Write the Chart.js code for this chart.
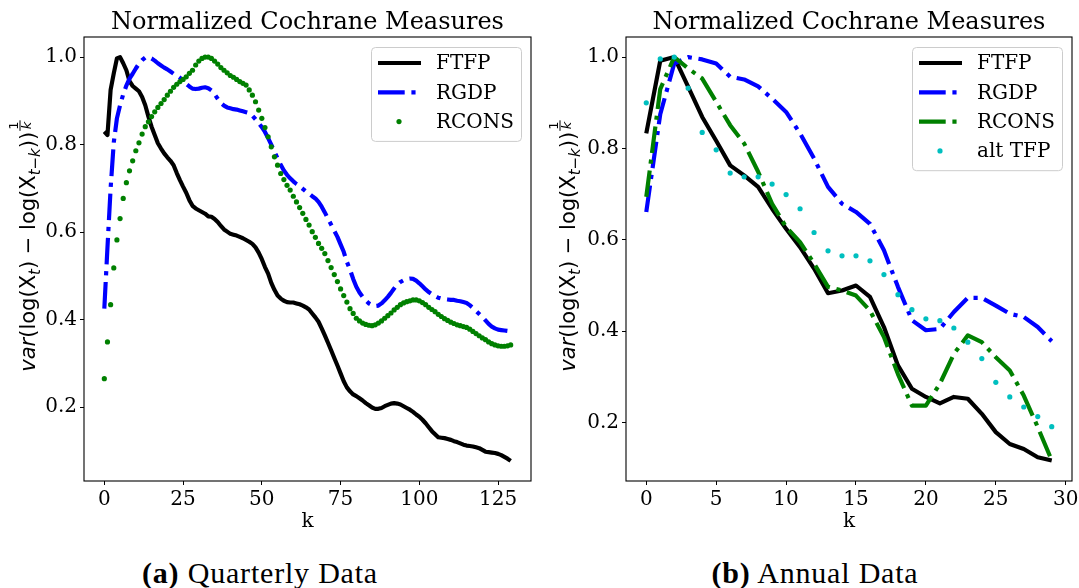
<!DOCTYPE html>
<html>
<head>
<meta charset="utf-8">
<script src="https://cdn.jsdelivr.net/npm/chart.js@4.4.0/dist/chart.umd.min.js"></script>
<style>
  html, body { margin: 0; padding: 0; background: #fff; }
  #page { position: relative; width: 1079px; height: 588px; overflow: hidden; }
  canvas { position: absolute; top: 0; }
  #quarterly { left: 0; }
  #annual { left: 540px; }
  .cap { position: absolute; top: 558px; line-height: 30px; font-family: "Liberation Serif", serif;
         font-size: 30px; letter-spacing: 0.8px; color: #000; white-space: nowrap; transform: translateX(-50%); }
</style>
</head>
<body>
<div id="page">
  <canvas id="quarterly" width="540" height="540"></canvas>
  <canvas id="annual" width="539" height="540"></canvas>
  <div class="cap" style="left:260px"><b>(a)</b> Quarterly Data</div>
  <div class="cap" style="left:815px"><b>(b)</b> Annual Data</div>
</div>
<script>
// --- data ---
const quarterlyK = Array.from({ length: 130 }, (_, i) => i);
const qFTFP = [0.830, 0.822, 0.925, 0.963, 0.997, 1.000, 0.986, 0.970, 0.945, 0.934,
  0.928, 0.922, 0.909, 0.890, 0.864, 0.841, 0.822, 0.803, 0.791, 0.780,
  0.771, 0.763, 0.753, 0.735, 0.719, 0.704, 0.690, 0.673, 0.660, 0.654,
  0.650, 0.646, 0.642, 0.636, 0.635, 0.630, 0.623, 0.614, 0.606, 0.601,
  0.596, 0.594, 0.592, 0.589, 0.586, 0.582, 0.578, 0.573, 0.565, 0.553,
  0.538, 0.520, 0.505, 0.484, 0.468, 0.455, 0.448, 0.443, 0.440, 0.439,
  0.439, 0.437, 0.435, 0.432, 0.428, 0.423, 0.414, 0.405, 0.395, 0.380,
  0.364, 0.347, 0.330, 0.312, 0.295, 0.277, 0.259, 0.245, 0.236, 0.229,
  0.225, 0.220, 0.215, 0.209, 0.204, 0.199, 0.196, 0.196, 0.198, 0.202,
  0.205, 0.208, 0.209, 0.208, 0.206, 0.202, 0.198, 0.194, 0.189, 0.183,
  0.178, 0.171, 0.163, 0.154, 0.145, 0.138, 0.131, 0.130, 0.129, 0.127,
  0.125, 0.122, 0.120, 0.117, 0.114, 0.112, 0.111, 0.110, 0.108, 0.106,
  0.102, 0.098, 0.097, 0.096, 0.095, 0.093, 0.090, 0.086, 0.082, 0.077];
const qRGDP = [0.425, 0.565, 0.700, 0.805, 0.860, 0.890, 0.915, 0.935, 0.951, 0.962,
  0.974, 0.985, 0.993, 0.999, 1.000, 0.997, 0.992, 0.986, 0.981, 0.976,
  0.972, 0.967, 0.962, 0.958, 0.953, 0.946, 0.939, 0.933, 0.928, 0.927,
  0.928, 0.930, 0.931, 0.929, 0.924, 0.915, 0.905, 0.895, 0.889, 0.885,
  0.883, 0.881, 0.880, 0.878, 0.876, 0.874, 0.872, 0.866, 0.858, 0.849,
  0.840, 0.829, 0.815, 0.800, 0.784, 0.769, 0.754, 0.741, 0.731, 0.723,
  0.716, 0.710, 0.705, 0.699, 0.693, 0.688, 0.682, 0.677, 0.669, 0.658,
  0.645, 0.631, 0.617, 0.603, 0.589, 0.572, 0.555, 0.532, 0.514, 0.493,
  0.475, 0.462, 0.452, 0.444, 0.437, 0.433, 0.431, 0.432, 0.437, 0.444,
  0.452, 0.461, 0.471, 0.480, 0.486, 0.490, 0.493, 0.494, 0.493, 0.489,
  0.483, 0.476, 0.469, 0.463, 0.458, 0.454, 0.450, 0.448, 0.447, 0.446,
  0.445, 0.445, 0.443, 0.442, 0.440, 0.438, 0.433, 0.427, 0.420, 0.413,
  0.406, 0.398, 0.390, 0.384, 0.380, 0.377, 0.376, 0.375, 0.374, 0.373];
const qRCONS = [0.265, 0.349, 0.434, 0.518, 0.582, 0.631, 0.677, 0.713, 0.740, 0.763,
  0.786, 0.804, 0.824, 0.841, 0.852, 0.864, 0.875, 0.885, 0.894, 0.903,
  0.913, 0.922, 0.931, 0.938, 0.944, 0.949, 0.955, 0.963, 0.970, 0.982,
  0.991, 0.997, 1.000, 1.000, 0.997, 0.991, 0.984, 0.976, 0.970, 0.964,
  0.958, 0.954, 0.949, 0.944, 0.940, 0.936, 0.925, 0.913, 0.898, 0.879,
  0.860, 0.839, 0.818, 0.795, 0.772, 0.753, 0.734, 0.720, 0.707, 0.696,
  0.682, 0.669, 0.656, 0.643, 0.629, 0.616, 0.601, 0.588, 0.574, 0.563,
  0.551, 0.535, 0.519, 0.503, 0.487, 0.470, 0.455, 0.440, 0.425, 0.414,
  0.403, 0.397, 0.392, 0.389, 0.387, 0.386, 0.388, 0.392, 0.397, 0.403,
  0.409, 0.415, 0.422, 0.428, 0.434, 0.438, 0.441, 0.443, 0.445, 0.445,
  0.443, 0.439, 0.434, 0.428, 0.423, 0.418, 0.412, 0.407, 0.402, 0.398,
  0.394, 0.391, 0.388, 0.386, 0.384, 0.382, 0.378, 0.373, 0.368, 0.363,
  0.358, 0.354, 0.349, 0.345, 0.342, 0.340, 0.339, 0.339, 0.340, 0.342];

const annualK = Array.from({ length: 30 }, (_, i) => i);
const aFTFP = [0.833, 0.992, 1.000, 0.935, 0.869, 0.817, 0.763, 0.741, 0.716, 0.668,
  0.624, 0.584, 0.537, 0.483, 0.489, 0.500, 0.475, 0.409, 0.325, 0.274,
  0.256, 0.242, 0.256, 0.252, 0.219, 0.179, 0.153, 0.142, 0.124, 0.117];
const aRGDP = [0.661, 0.875, 0.986, 1.000, 0.995, 0.986, 0.957, 0.951, 0.936, 0.909,
  0.880, 0.833, 0.778, 0.716, 0.679, 0.661, 0.635, 0.577, 0.497, 0.424,
  0.402, 0.405, 0.442, 0.473, 0.473, 0.456, 0.438, 0.431, 0.409, 0.378];
const aRCONS = [0.694, 0.930, 1.000, 0.975, 0.953, 0.902, 0.851, 0.811, 0.749, 0.679,
  0.628, 0.595, 0.548, 0.497, 0.489, 0.478, 0.445, 0.387, 0.306, 0.237,
  0.237, 0.285, 0.350, 0.391, 0.376, 0.343, 0.314, 0.259, 0.190, 0.117];
const aAltTFP = [0.900, 0.996, 1.000, 0.932, 0.835, 0.797, 0.746, 0.738, 0.738, 0.722,
  0.699, 0.668, 0.616, 0.576, 0.565, 0.565, 0.554, 0.524, 0.480, 0.447,
  0.427, 0.423, 0.407, 0.376, 0.340, 0.288, 0.256, 0.234, 0.213, 0.191];

const qXTicks = [0, 25, 50, 75, 100, 125];
const aXTicks = [0, 5, 10, 15, 20, 25, 30];
const yTicks = [0.2, 0.4, 0.6, 0.8, 1.0];

// --- styles ---
const SERIF = '"DejaVu Serif", serif';
const LW = 4.17;
const DASHDOT = [26.7, 6.7, 4.17, 6.7];

// frame, title, legend and the mathtext-like y label
const decorPlugin = {
    id: 'decor',
    afterDatasetsDraw(chart, args, opts) {
        const ctx = chart.ctx;
        const ca = chart.chartArea;
        ctx.save();

        // axes box
        ctx.strokeStyle = '#000';
        ctx.lineWidth = 1.1;
        ctx.strokeRect(ca.left, ca.top, ca.right - ca.left, ca.bottom - ca.top);

        // title centred on the axes
        ctx.fillStyle = '#000';
        ctx.font = '24px ' + SERIF;
        ctx.textAlign = 'center';
        ctx.textBaseline = 'alphabetic';
        ctx.fillText(opts.title, (ca.left + ca.right) / 2, 29);

        // legend
        const sets = chart.data.datasets;
        const boxW = 150, rowH = 29.3;
        const boxR = ca.right - 10, boxT = ca.top + 10;
        const boxL = boxR - boxW, boxH = sets.length * rowH + 6;
        ctx.beginPath();
        ctx.roundRect(boxL + 0.5, boxT + 0.5, boxW, boxH, 4);
        ctx.fillStyle = 'rgba(255,255,255,0.8)';
        ctx.fill();
        ctx.strokeStyle = '#cccccc';
        ctx.lineWidth = 1;
        ctx.stroke();
        ctx.textAlign = 'left';
        ctx.textBaseline = 'middle';
        ctx.font = '20px ' + SERIF;
        sets.forEach((ds, i) => {
            const y = boxT + 16 + i * rowH;
            if (ds.showLine === false) {
                ctx.fillStyle = ds.pointBackgroundColor;
                ctx.beginPath();
                ctx.arc(boxL + 28, y, ds.pointRadius, 0, Math.PI * 2);
                ctx.fill();
            } else {
                ctx.strokeStyle = ds.borderColor;
                ctx.lineWidth = ds.borderWidth;
                ctx.setLineDash(ds.borderDash || []);
                ctx.beginPath();
                ctx.moveTo(boxL + 7, y);
                ctx.lineTo(boxL + 50, y);
                ctx.stroke();
                ctx.setLineDash([]);
            }
            ctx.fillStyle = '#000';
            ctx.fillText(ds.label, boxL + 65, y + 1);
        });
        ctx.restore();

        drawYLabel(ctx, 27, (ca.top + ca.bottom) / 2 - 13);
    }
};

function drawYLabel(ctx, cx, cy) {
    const big = '21px "DejaVu Sans"';
    const bigIt = 'italic 21px "DejaVu Sans"';
    const sub = 'italic 15px "DejaVu Sans"';
    const runs = [
        { t: 'var', f: bigIt, dy: 0 },
        { t: '(log(X', f: big, dy: 0 },
        { t: 't', f: sub, dy: 4.5 },
        { t: ') \u2212 log(X', f: big, dy: 0 },
        { t: 't\u2212k', f: sub, dy: 4.5 },
        { t: '))', f: big, dy: 0 }
    ];
    ctx.save();
    let w = 0;
    runs.forEach(r => { ctx.font = r.f; r.w = ctx.measureText(r.t).width; w += r.w; });
    ctx.font = '13px "DejaVu Sans"';
    const fw = ctx.measureText('k').width + 3;
    const total = w + fw + 1;

    ctx.translate(cx, cy);
    ctx.rotate(-Math.PI / 2);
    ctx.fillStyle = '#000';
    ctx.textBaseline = 'alphabetic';
    ctx.textAlign = 'left';
    const base = 8;
    let x = -total / 2;
    runs.forEach(r => { ctx.font = r.f; ctx.fillText(r.t, x, base + r.dy); x += r.w; });

    // superscript 1/k as a small stacked fraction
    x += 1;
    const barY = base - 15;
    ctx.textAlign = 'center';
    ctx.font = '13px "DejaVu Sans"';
    ctx.fillText('1', x + fw / 2, barY - 2);
    ctx.font = 'italic 13px "DejaVu Sans"';
    ctx.fillText('k', x + fw / 2, barY + 11);
    ctx.fillRect(x, barY - 0.5, fw, 1);
    ctx.restore();
}

function makeChart(id, cfg) {
    const tickFont = { family: SERIF, size: 20 };
    const gridOpts = { drawOnChartArea: false, drawTicks: true, tickLength: 4, tickColor: '#000', lineWidth: 1 };
    return new Chart(document.getElementById(id), {
        type: 'line',
        data: { labels: cfg.labels, datasets: cfg.datasets },
        plugins: [decorPlugin],
        options: {
            responsive: false,
            animation: false,
            devicePixelRatio: 1,
            layout: { padding: { top: 37, right: cfg.padRight, left: 0, bottom: 0 } },
            elements: { line: { borderJoinStyle: 'round', tension: 0 } },
            plugins: {
                legend: { display: false },
                tooltip: { enabled: false },
                title: { display: false },
                decor: { title: 'Normalized Cochrane Measures' }
            },
            scales: {
                x: {
                    type: 'linear',
                    min: cfg.xMin,
                    max: cfg.xMax,
                    border: { display: false },
                    grid: gridOpts,
                    ticks: {
                        font: tickFont, color: '#000', padding: 3, autoSkip: false, maxRotation: 0,
                        callback: v => String(v)
                    },
                    afterBuildTicks: s => { s.ticks = cfg.xTicks.map(v => ({ value: v })); },
                    afterFit: s => { s.height = 59; s.paddingLeft = 0; s.paddingRight = 0; },
                    title: {
                        display: true, text: 'k', color: '#000',
                        font: { family: SERIF, size: 20 }, padding: { top: 0, bottom: 6 }
                    }
                },
                y: {
                    min: cfg.yMin,
                    max: cfg.yMax,
                    border: { display: false },
                    grid: gridOpts,
                    ticks: {
                        font: tickFont, color: '#000', padding: 3, autoSkip: false,
                        callback: v => v.toFixed(1)
                    },
                    afterBuildTicks: s => { s.ticks = yTicks.map(v => ({ value: v })); },
                    afterFit: s => { s.width = cfg.yWidth; s.paddingTop = 0; s.paddingBottom = 0; }
                }
            }
        }
    });
}

const solid = (label, data, color, order) => ({
    label, data, borderColor: color, borderWidth: LW, pointRadius: 0, fill: false, order
});
const dashdot = (label, data, color, order) => ({
    label, data, borderColor: color, borderWidth: LW, borderDash: DASHDOT, pointRadius: 0, fill: false, order
});
const dots = (label, data, color, order) => ({
    label, data, showLine: false, pointRadius: 2.6, pointBackgroundColor: color,
    pointBorderWidth: 0, borderColor: color, order
});

makeChart('quarterly', {
    labels: quarterlyK,
    xMin: -6.45, xMax: 135.45, yMin: 0.031, yMax: 1.046,
    xTicks: qXTicks, yWidth: 84, padRight: 9,
    datasets: [
        solid('FTFP', qFTFP, '#000000', 3),
        dashdot('RGDP', qRGDP, '#0000ff', 2),
        dots('RCONS', qRCONS, '#008000', 1)
    ]
});

makeChart('annual', {
    labels: annualK,
    xMin: -1.45, xMax: 30.45, yMin: 0.072, yMax: 1.044,
    xTicks: aXTicks, yWidth: 86, padRight: 7,
    datasets: [
        solid('FTFP', aFTFP, '#000000', 4),
        dashdot('RGDP', aRGDP, '#0000ff', 3),
        dashdot('RCONS', aRCONS, '#008000', 2),
        dots('alt TFP', aAltTFP, '#00bfbf', 1)
    ]
});
</script>
</body>
</html>
